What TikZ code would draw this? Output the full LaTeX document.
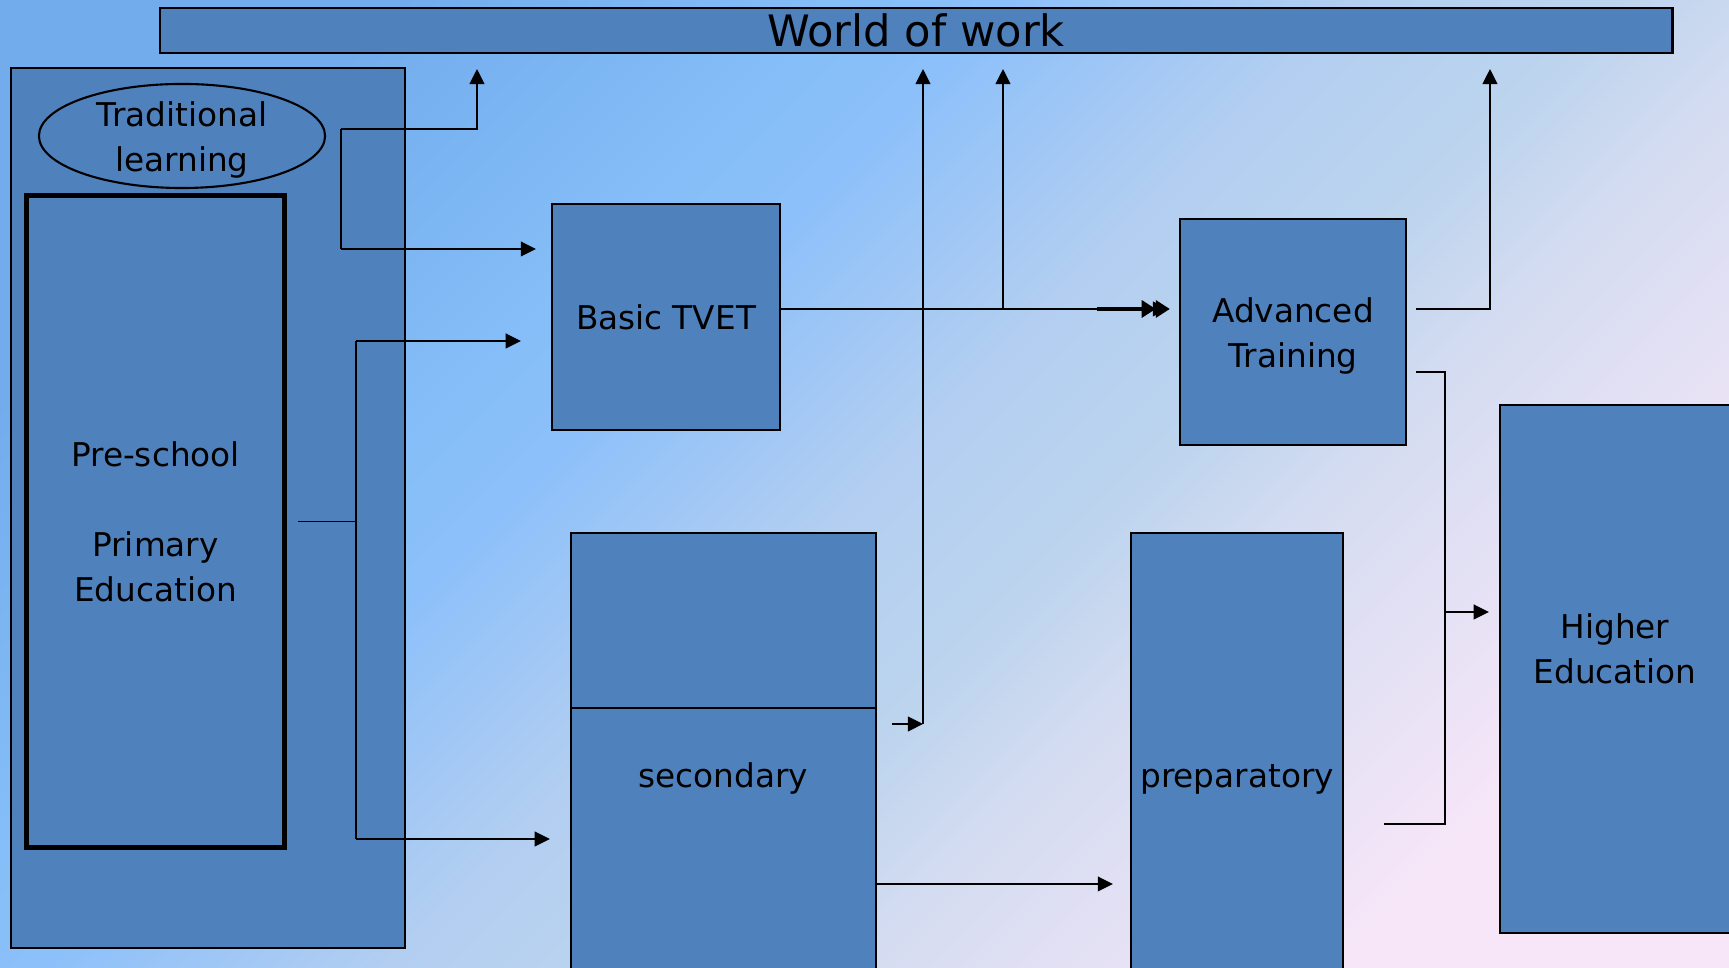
\documentclass[tikz,border=0pt]{standalone}
\usepackage{fontspec}
\setmainfont{DejaVu Sans}
\usetikzlibrary{arrows.meta,shapes.geometric,calc}

\definecolor{boxblue}{HTML}{4F81BD}
\definecolor{bgdeep}{HTML}{72ACEC}
\definecolor{bgsky}{HTML}{85BEF8}
\definecolor{bgbright}{HTML}{8CC0FA}
\definecolor{bgmid}{HTML}{B2CEF1}
\definecolor{bgpale}{HTML}{BCD4EE}
\definecolor{bglilac}{HTML}{D4DCF1}
\definecolor{bgpink}{HTML}{F6E6F8}
\pgfdeclareverticalshading{slidebg}{100bp}{color(0bp)=(bgpink); color(25bp)=(bgpink); color(37.5bp)=(bglilac); color(43bp)=(bgpale); color(50bp)=(bgmid); color(59bp)=(bgbright); color(63bp)=(bgsky); color(75bp)=(bgdeep); color(100bp)=(bgdeep)}

\tikzset{
  >={Triangle[length=4.3pt,width=4.2pt]},
  box/.style={draw, fill=boxblue, line width=0.6pt, inner sep=0pt},
  lbl/.style={font=\fontsize{9.3}{12.8}\selectfont, align=center},
}

\begin{document}
\begin{tikzpicture}[x=0.01cm, y=-0.01cm, line width=0.5pt]
	\useasboundingbox (0,0) rectangle (1729,968);
	\shade[shading=slidebg, shading angle=45] (0,0) rectangle (1729,968);
	\clip (0,0) rectangle (1729,968);

	% boxes
	\node[box, minimum width=15.12cm, minimum height=0.45cm, font=\fontsize{12.3}{14}\selectfont] (work) at (916,30.5) {World of work};
	\node[box, line width=0.5pt, minimum width=3.94cm, minimum height=8.80cm] (trad) at (208,508) {};
	\node[ellipse, draw, line width=0.6pt, minimum width=2.86cm, minimum height=1.04cm, inner sep=0pt] (learn) at (182,136) {};
	\node[lbl] (learntext) at ([yshift=-0.04cm]learn.center) {Traditional\\learning};
	\node[draw, line width=1.4pt, minimum width=2.58cm, minimum height=6.51cm, lbl] (school) at (155.5,521.5) {Pre-school\\[12.8pt]Primary\\Education};
	\node[box, minimum width=2.28cm, minimum height=2.26cm, lbl] (tvet) at (666,317) {Basic TVET};
	\node[box, minimum width=2.26cm, minimum height=2.26cm] (adv) at (1293,332) {};
	\node[lbl] (advtext) at ([yshift=-0.04cm]adv.center) {Advanced\\Training};
	\node[box, minimum width=3.05cm, minimum height=1.75cm] (secup) at (723.5,620.5) {};
	\node[box, minimum width=3.05cm, minimum height=3.02cm] (sec) at (723.5,859) {};
	\node[lbl] (sectext) at ([yshift=-0.72cm]sec.north) {secondary};
	\node[box, minimum width=2.12cm, minimum height=4.77cm] (prep) at (1237,771.5) {};
	\node[lbl] (preptext) at ([yshift=-2.47cm]prep.north) {preparatory};
	\node[box, minimum width=2.60cm, minimum height=5.28cm] (higher) at (1630,669) {};
	\node[lbl] (highertext) at ([xshift=-0.15cm,yshift=-2.45cm]higher.north) {Higher\\Education};

	% junctions
	\coordinate (w1) at (477,69);
	\coordinate (tj1) at (341,129);
	\coordinate (tj2) at (341,249);
	\coordinate (pj1) at (356,341);
	\coordinate (pj2) at (356,839);
	\coordinate (tvo) at (780,309);
	\coordinate (tb) at (1003,309);
	\coordinate (dbl) at (1097,309);
	\coordinate (sj) at (923,724);
	\coordinate (sp) at (876,884);
	\coordinate (aj) at (1490,309);
	\coordinate (hj1) at (1445,372);
	\coordinate (hj2) at (1445,824);
	\coordinate (hj3) at (1445,612);
	\coordinate (pe) at (1384,824);

	% traditional learning
	\draw (tj1) -- (tj2);
	\draw[->] (tj1) -| (w1);
	\draw[->, shorten >=0.15cm] (tj2) -- (tj2 -| tvet.west);

	% pre-school / primary
	\draw[shorten <=0.11cm] (school.east) -- (school.east -| pj1);
	\draw (pj1) -- (pj2);
	\draw[->, shorten >=0.30cm] (pj1) -- (pj1 -| tvet.west);
	\draw[->, shorten >=0.20cm] (pj2) -- (pj2 -| sec.west);

	% basic TVET
	\draw[->, shorten >=0.11cm] (tvo) -- (tvo -| adv.west);
	\draw[line width=1.1pt, -{Triangle[length=4pt,width=4.8pt]Triangle[length=4pt,width=4.8pt]}, shorten >=0.09cm] (dbl) -- (dbl -| adv.west);
	\draw[->] (tb) -- (tb |- w1);

	% secondary
	\draw[->, shorten <=0.15cm] (sec.east |- sj) -- (sj);
	\draw[->] (sj) -- (sj |- w1);
	\draw[->, shorten >=0.17cm] (sp) -- (sp -| prep.west);

	% advanced training
	\draw[->, shorten <=0.09cm] (adv.east |- aj) -| (aj |- w1);
	\draw[shorten <=0.09cm] (adv.east |- hj1) -- (hj1) -- (hj2) -- (pe);
	\draw[->, shorten >=0.10cm] (hj3) -- (hj3 -| higher.west);
\end{tikzpicture}
\end{document}
